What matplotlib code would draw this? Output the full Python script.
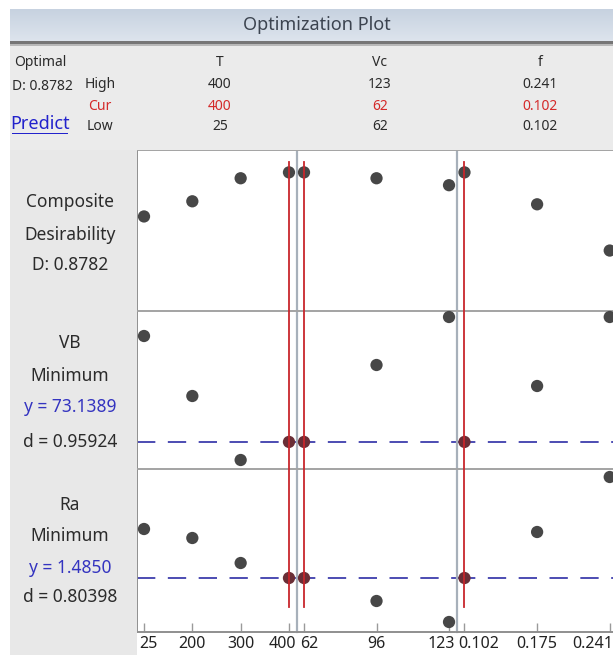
import matplotlib
matplotlib.use("Agg")
import matplotlib.pyplot as plt
import numpy as np
from matplotlib.patches import Rectangle
from matplotlib.lines import Line2D
from matplotlib.transforms import blended_transform_factory, ScaledTranslation
from matplotlib.colors import LinearSegmentedColormap

plt.rcParams['font.family'] = ['Noto Sans', 'DejaVu Sans']

# ---------------- data ----------------
factors = ["T", "Vc", "f"]
T_levels = ["25", "200", "300", "400"]
Vc_levels = ["62", "96", "123"]
f_levels = ["0.102", "0.175", "0.241"]
levels = [T_levels, Vc_levels, f_levels]

high_vals = ["400", "123", "0.241"]
cur_vals = ["400", "62", "0.102"]
low_vals = ["25", "62", "0.102"]
cur_index = [3, 0, 0]

# composite desirability by factor level
D_T = [0.599, 0.695, 0.841, 0.8782]
D_Vc = [0.8782, 0.841, 0.797]
D_f = [0.8782, 0.676, 0.383]

# VB response by factor level
VB_T = [126.1, 96.1, 64.1, 73.1389]
VB_Vc = [73.1389, 111.6, 135.6]
VB_f = [73.1389, 101.1, 135.6]

# Ra response by factor level
Ra_T = [1.975, 1.885, 1.635, 1.4850]
Ra_Vc = [1.4850, 1.255, 1.045]
Ra_f = [1.4850, 1.945, 2.495]

responses = [
    {"vals": [D_T, D_Vc, D_f], "ylim": (0.0, 1.02), "target": None,
     "labels": [("Composite", "k"), ("Desirability", "k"), ("D: 0.8782", "k")]},
    {"vals": [VB_T, VB_Vc, VB_f], "ylim": (59.6, 138.6), "target": 73.1389,
     "labels": [("VB", "k"), ("Minimum", "k"), ("y = 73.1389", "b"), ("d = 0.95924", "k")]},
    {"vals": [Ra_T, Ra_Vc, Ra_f], "ylim": (0.945, 2.575), "target": 1.4850,
     "labels": [("Ra", "k"), ("Minimum", "k"), ("y = 1.4850", "b"), ("d = 0.80398", "k")]},
]

# ---------------- layout (pixels) ----------------
W, H = 613, 655
fig = plt.figure(figsize=(W / 100, H / 100), dpi=100)
fig.patch.set_facecolor("white")


def fx(x):
    return x / W


def fy(y):
    return 1 - y / H


def rect(x0, y0, x1, y1, color, z=0):
    fig.patches.append(Rectangle((fx(x0), fy(y1)), fx(x1) - fx(x0), fy(y0) - fy(y1),
                                 transform=fig.transFigure, facecolor=color,
                                 edgecolor="none", zorder=z))


# title band gradient
gax = fig.add_axes([fx(10), fy(41), fx(613) - fx(10), fy(9) - fy(41)])
grad = np.linspace(0, 1, 50).reshape(-1, 1)
cm = LinearSegmentedColormap.from_list("g", ["#c7d2e0", "#dde4ed"])
gax.imshow(grad, aspect="auto", cmap=cm, extent=[0, 1, 0, 1])
gax.set_axis_off()

rect(10, 41, 613, 44, "#767676")
rect(10, 44, 613, 45.5, "#b8b8b8")
rect(10, 45.5, 613, 150, "#ebebeb")
rect(10, 150, 137, 655, "#e8e8e8")

txtc = "#2b2b2b"
redc = "#d42a2a"
fig.text(fx(317), fy(25), "Optimization Plot", ha="center", va="center",
         fontsize=13, color="#3c4450")

# header
hfs = 10
fig.text(fx(40), fy(62), "Optimal", ha="center", va="center", fontsize=hfs, color=txtc)
fig.text(fx(42), fy(87), "D: 0.8782", ha="center", va="center", fontsize=hfs, color=txtc)
fig.text(fx(40), fy(124), "Predict", ha="center", va="center", fontsize=13,
         color="#2222cc")
rect(12, 132.5, 68, 133.8, "#2222cc", z=3)
fig.text(fx(100), fy(85), "High", ha="center", va="center", fontsize=hfs, color=txtc)
fig.text(fx(100), fy(106), "Cur", ha="center", va="center", fontsize=hfs, color=redc)
fig.text(fx(100), fy(126), "Low", ha="center", va="center", fontsize=hfs, color=txtc)

col_px = [(137, 297), (297, 457), (457, 617)]
row_px = [(150, 311), (311, 469), (469, 632)]
xlims = [(-0.145, 3.166), (-0.0966, 2.11), (-0.103, 2.10)]
# tick label shifts (px) for the edge labels of each panel
first_shift = [-5, -4, -6]
last_shift = [7, 6, 4]

for j in range(3):
    cx = (col_px[j][0] + col_px[j][1]) / 2 + 3
    fig.text(fx(cx), fy(62), factors[j], ha="center", va="center", fontsize=hfs, color=txtc)
    fig.text(fx(cx), fy(85), high_vals[j], ha="center", va="center", fontsize=hfs, color=txtc)
    fig.text(fx(cx), fy(106), cur_vals[j], ha="center", va="center", fontsize=hfs, color=redc)
    fig.text(fx(cx), fy(126), low_vals[j], ha="center", va="center", fontsize=hfs, color=txtc)

label_y = [
    [202, 235, 265],
    [343, 376, 407, 442],
    [505, 536, 568, 597],
]

axes = [[None] * 3 for _ in range(3)]
for i, resp in enumerate(responses):
    for j in range(3):
        x0, x1 = col_px[j]
        y0, y1 = row_px[i]
        ax = fig.add_axes([fx(x0), fy(y1), fx(x1) - fx(x0), fy(y0) - fy(y1)])
        axes[i][j] = ax
        ax.set_facecolor("white")
        ax.set_xlim(*xlims[j])
        ax.set_ylim(*resp["ylim"])
        for s in ["right", "bottom"]:
            ax.spines[s].set_visible(False)
        ax.spines["top"].set_color("#a3a3a3")
        ax.spines["top"].set_linewidth(1.4)
        ax.spines["left"].set_color("#8f8f8f" if j == 0 else "#a7b0ba")
        ax.spines["left"].set_linewidth(1.4 if j == 0 else 1.6)
        vals = resp["vals"][j]
        xs = np.arange(len(vals))
        colors = ["#6a2e36" if (k == cur_index[j] and resp["target"] is not None) else "#474747"
                  for k in xs]
        ax.scatter(xs, vals, s=78, c=colors, zorder=3, linewidths=0, clip_on=False)
        if resp["target"] is not None:
            ax.axhline(resp["target"], color="#2e2ea6", lw=1.2,
                       linestyle=(0, (11, 7.5)), zorder=2)
        ax.set_yticks([])
        if i == 2:
            ax.spines["bottom"].set_visible(True)
            ax.spines["bottom"].set_color("#8f8f8f")
            ax.spines["bottom"].set_linewidth(1.4)
            ax.set_xticks(xs)
            ax.set_xticklabels(levels[j])
            ax.tick_params(axis="x", direction="in", length=6.5, width=1.0,
                           color="#9a9a9a", labelsize=11.5, labelcolor="#222222", pad=3)
            tl = ax.get_xticklabels()
            tl[0].set_ha("left")
            tl[0].set_transform(tl[0].get_transform() +
                                ScaledTranslation(first_shift[j] / 100, 0, fig.dpi_scale_trans))
            tl[-1].set_ha("right")
            tl[-1].set_transform(tl[-1].get_transform() +
                                 ScaledTranslation(last_shift[j] / 100, 0, fig.dpi_scale_trans))
        else:
            ax.set_xticks([])
    for k, (txt, c) in enumerate(resp["labels"]):
        fig.text(fx(70), fy(label_y[i][k]), txt, ha="center", va="center", fontsize=12.5,
                 color="#3434c0" if c == "b" else txtc)

# red current-setting lines
for j in range(3):
    ax = axes[2][j]
    tr = blended_transform_factory(ax.transData, fig.transFigure)
    fig.lines.append(Line2D([cur_index[j], cur_index[j]], [fy(162), fy(607)],
                            transform=tr, color="#c8262c", lw=1.3, zorder=10))

fig.savefig("out.png", dpi=100)
